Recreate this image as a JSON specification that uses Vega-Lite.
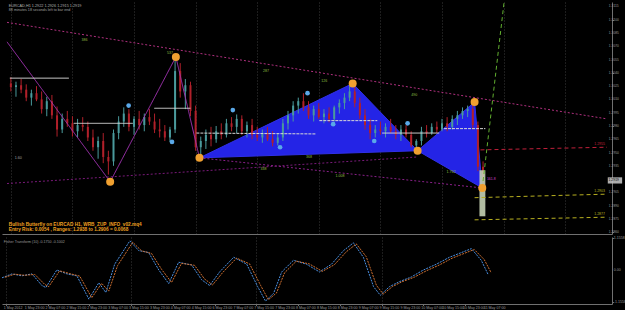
{
"$schema": "https://vega.github.io/schema/vega-lite/v6.json",
"background": "#000000",
"padding": 0,
"spacing": 1,
"resolve": {"scale": {"color": "independent", "size": "independent", "strokeDash": "independent"}},
"config": {"view": {"stroke": null}, "font": "Liberation Sans", "text": {"font": "Liberation Sans"},
"axis": {"labels": false, "tickSize": 1.5, "tickColor": "#707070", "domainColor": "#707070", "gridColor": "#3a3a3a", "gridDash": [1,2]}},
"datasets": {
"candles": [
{"b":0,"o":1.3028,"h":1.3035,"l":1.3019,"c":1.3024},
{"b":2,"o":1.3024,"h":1.3030,"l":1.3013,"c":1.3026},
{"b":4,"o":1.3026,"h":1.3033,"l":1.3017,"c":1.3021},
{"b":6,"o":1.3021,"h":1.3027,"l":1.3008,"c":1.3012},
{"b":8,"o":1.3012,"h":1.3021,"l":1.3003,"c":1.3017},
{"b":10,"o":1.3017,"h":1.3025,"l":1.3008,"c":1.3010},
{"b":12,"o":1.3010,"h":1.3019,"l":1.2994,"c":1.2999},
{"b":14,"o":1.2999,"h":1.3013,"l":1.2991,"c":1.3008},
{"b":16,"o":1.3008,"h":1.3015,"l":1.2988,"c":1.2992},
{"b":18,"o":1.2992,"h":1.3002,"l":1.2968,"c":1.2976},
{"b":20,"o":1.2976,"h":1.2994,"l":1.2972,"c":1.2988},
{"b":22,"o":1.2988,"h":1.2997,"l":1.2979,"c":1.2983},
{"b":24,"o":1.2983,"h":1.2991,"l":1.2968,"c":1.2974},
{"b":26,"o":1.2974,"h":1.2988,"l":1.2967,"c":1.2981},
{"b":28,"o":1.2981,"h":1.2990,"l":1.2974,"c":1.2979},
{"b":30,"o":1.2979,"h":1.2985,"l":1.2963,"c":1.2967},
{"b":32,"o":1.2967,"h":1.2976,"l":1.2952,"c":1.2956},
{"b":34,"o":1.2956,"h":1.2968,"l":1.2943,"c":1.2963},
{"b":36,"o":1.2963,"h":1.2972,"l":1.2938,"c":1.2945},
{"b":38,"o":1.2945,"h":1.2952,"l":1.2925,"c":1.2940},
{"b":40,"o":1.2940,"h":1.2976,"l":1.2935,"c":1.2972},
{"b":42,"o":1.2972,"h":1.2991,"l":1.2965,"c":1.2985},
{"b":44,"o":1.2985,"h":1.3001,"l":1.2979,"c":1.2994},
{"b":46,"o":1.2994,"h":1.2999,"l":1.2974,"c":1.2979},
{"b":48,"o":1.2979,"h":1.2991,"l":1.2970,"c":1.2988},
{"b":50,"o":1.2988,"h":1.2997,"l":1.2976,"c":1.2981},
{"b":52,"o":1.2981,"h":1.2994,"l":1.2974,"c":1.2990},
{"b":54,"o":1.2990,"h":1.2999,"l":1.2981,"c":1.2985},
{"b":56,"o":1.2985,"h":1.2994,"l":1.2972,"c":1.2976},
{"b":58,"o":1.2976,"h":1.2988,"l":1.2967,"c":1.2974},
{"b":60,"o":1.2974,"h":1.2981,"l":1.2963,"c":1.2967},
{"b":62,"o":1.2967,"h":1.2979,"l":1.2962,"c":1.2976},
{"b":64,"o":1.2976,"h":1.3055,"l":1.2972,"c":1.3042},
{"b":66,"o":1.3042,"h":1.3051,"l":1.3012,"c":1.3019},
{"b":68,"o":1.3019,"h":1.3033,"l":1.2999,"c":1.3026},
{"b":70,"o":1.3026,"h":1.3030,"l":1.2991,"c":1.2997},
{"b":72,"o":1.2997,"h":1.3003,"l":1.2952,"c":1.2956},
{"b":74,"o":1.2956,"h":1.2968,"l":1.2946,"c":1.2963},
{"b":76,"o":1.2963,"h":1.2976,"l":1.2954,"c":1.2970},
{"b":78,"o":1.2970,"h":1.2979,"l":1.2957,"c":1.2965},
{"b":80,"o":1.2965,"h":1.2980,"l":1.2961,"c":1.2974},
{"b":82,"o":1.2974,"h":1.2983,"l":1.2965,"c":1.2970},
{"b":84,"o":1.2970,"h":1.2988,"l":1.2967,"c":1.2983},
{"b":86,"o":1.2983,"h":1.2990,"l":1.2974,"c":1.2979},
{"b":88,"o":1.2979,"h":1.2993,"l":1.2972,"c":1.2988},
{"b":90,"o":1.2988,"h":1.2992,"l":1.2970,"c":1.2974},
{"b":92,"o":1.2974,"h":1.2985,"l":1.2967,"c":1.2981},
{"b":94,"o":1.2981,"h":1.2988,"l":1.2965,"c":1.2970},
{"b":96,"o":1.2970,"h":1.2979,"l":1.2963,"c":1.2967},
{"b":98,"o":1.2967,"h":1.2976,"l":1.2961,"c":1.2972},
{"b":100,"o":1.2972,"h":1.2979,"l":1.2963,"c":1.2965},
{"b":102,"o":1.2965,"h":1.2974,"l":1.2957,"c":1.2961},
{"b":104,"o":1.2961,"h":1.2972,"l":1.2958,"c":1.2967},
{"b":106,"o":1.2967,"h":1.2988,"l":1.2963,"c":1.2983},
{"b":108,"o":1.2983,"h":1.2997,"l":1.2976,"c":1.2992},
{"b":110,"o":1.2992,"h":1.3008,"l":1.2985,"c":1.3003},
{"b":112,"o":1.3003,"h":1.3012,"l":1.2994,"c":1.3008},
{"b":114,"o":1.3008,"h":1.3017,"l":1.2997,"c":1.3001},
{"b":116,"o":1.3001,"h":1.3008,"l":1.2988,"c":1.2992},
{"b":118,"o":1.2992,"h":1.3003,"l":1.2985,"c":1.2999},
{"b":120,"o":1.2999,"h":1.3006,"l":1.2988,"c":1.2990},
{"b":122,"o":1.2990,"h":1.2999,"l":1.2983,"c":1.2994},
{"b":124,"o":1.2994,"h":1.3001,"l":1.2984,"c":1.2988},
{"b":126,"o":1.2988,"h":1.3003,"l":1.2985,"c":1.3001},
{"b":128,"o":1.3001,"h":1.3010,"l":1.2994,"c":1.3006},
{"b":130,"o":1.3006,"h":1.3017,"l":1.2999,"c":1.3012},
{"b":132,"o":1.3012,"h":1.3025,"l":1.3008,"c":1.3019},
{"b":134,"o":1.3019,"h":1.3024,"l":1.3001,"c":1.3006},
{"b":136,"o":1.3006,"h":1.3012,"l":1.2988,"c":1.2992},
{"b":138,"o":1.2992,"h":1.2999,"l":1.2976,"c":1.2981},
{"b":140,"o":1.2981,"h":1.2988,"l":1.2965,"c":1.2972},
{"b":142,"o":1.2972,"h":1.2981,"l":1.2967,"c":1.2976},
{"b":144,"o":1.2976,"h":1.2985,"l":1.2970,"c":1.2974},
{"b":146,"o":1.2974,"h":1.2983,"l":1.2967,"c":1.2979},
{"b":148,"o":1.2979,"h":1.2988,"l":1.2972,"c":1.2974},
{"b":150,"o":1.2974,"h":1.2981,"l":1.2965,"c":1.2970},
{"b":152,"o":1.2970,"h":1.2981,"l":1.2963,"c":1.2976},
{"b":154,"o":1.2976,"h":1.2981,"l":1.2967,"c":1.2970},
{"b":156,"o":1.2970,"h":1.2974,"l":1.2956,"c":1.2958},
{"b":158,"o":1.2958,"h":1.2965,"l":1.2954,"c":1.2963},
{"b":160,"o":1.2963,"h":1.2979,"l":1.2958,"c":1.2974},
{"b":162,"o":1.2974,"h":1.2981,"l":1.2967,"c":1.2972},
{"b":164,"o":1.2972,"h":1.2983,"l":1.2970,"c":1.2979},
{"b":166,"o":1.2979,"h":1.2985,"l":1.2972,"c":1.2976},
{"b":168,"o":1.2976,"h":1.2988,"l":1.2974,"c":1.2983},
{"b":170,"o":1.2983,"h":1.2990,"l":1.2974,"c":1.2979},
{"b":172,"o":1.2979,"h":1.2992,"l":1.2976,"c":1.2988},
{"b":174,"o":1.2988,"h":1.2997,"l":1.2981,"c":1.2992},
{"b":176,"o":1.2992,"h":1.3001,"l":1.2988,"c":1.2997},
{"b":178,"o":1.2997,"h":1.3003,"l":1.2990,"c":1.2999},
{"b":180,"o":1.2999,"h":1.3007,"l":1.2976,"c":1.2981},
{"b":182,"o":1.2981,"h":1.2985,"l":1.2929,"c":1.2934},
{"b":184,"o":1.2934,"h":1.2940,"l":1.2911,"c":1.2919}
],
"polys": [
{"g":"t1","k":0,"b":73.5,"p":1.2944},{"g":"t1","k":1,"b":133.2,"p":1.3028},{"g":"t1","k":2,"b":158.5,"p":1.2952},
{"g":"t2","k":0,"b":158.5,"p":1.2952},{"g":"t2","k":1,"b":180.7,"p":1.3007},{"g":"t2","k":2,"b":183.7,"p":1.2910}
],
"lines": [
{"g":"purple","k":0,"b":-1.5,"p":1.3075},{"g":"purple","k":1,"b":38.7,"p":1.2917},{"g":"purple","k":2,"b":64.3,"p":1.3058},{"g":"purple","k":3,"b":73.5,"p":1.2944},
{"g":"up1","k":0,"b":-1.5,"p":1.3097},{"g":"up1","k":1,"b":232.3,"p":1.2988},
{"g":"xc","k":0,"b":-1.5,"p":1.2915},{"g":"xc","k":1,"b":158.5,"p":1.2945},
{"g":"ad","k":0,"b":73.5,"p":1.2944},{"g":"ad","k":1,"b":183.7,"p":1.2910},
{"g":"grn","k":0,"b":183.7,"p":1.2910},{"g":"grn","k":1,"b":192.2,"p":1.3120},
{"g":"red","k":0,"b":183.0,"p":1.2953},{"g":"red","k":1,"b":232.3,"p":1.2956},
{"g":"yl1","k":0,"b":180.7,"p":1.2899},{"g":"yl1","k":1,"b":232.3,"p":1.2903},
{"g":"yl2","k":0,"b":180.7,"p":1.2874},{"g":"yl2","k":1,"b":232.3,"p":1.2877},
{"g":"w1","k":0,"b":-0.4,"p":1.3034},{"g":"w1","k":1,"b":22.6,"p":1.3034},
{"g":"w2","k":0,"b":24.5,"p":1.2983},{"g":"w2","k":1,"b":47.5,"p":1.2983},
{"g":"w3","k":0,"b":55.9,"p":1.3000},{"g":"w3","k":1,"b":70.0,"p":1.3000},
{"g":"w4","k":0,"b":72.3,"p":1.2972},{"g":"w4","k":1,"b":119.0,"p":1.2971},
{"g":"w5","k":0,"b":120.2,"p":1.2986},{"g":"w5","k":1,"b":142.8,"p":1.2986},
{"g":"w6","k":0,"b":144.7,"p":1.2972},{"g":"w6","k":1,"b":166.9,"p":1.2972},
{"g":"w7","k":0,"b":168.8,"p":1.2977},{"g":"w7","k":1,"b":184.9,"p":1.2977}
],
"boxes": [
{"k":"zone","b":182.6,"b2":184.9,"p":1.2930,"p2":1.2878},
{"k":"price","b":232.6,"b2":238.2,"p":1.2922,"p2":1.2915}
],
"pts": [
{"k":"o","b":38.7,"p":1.2917},{"k":"o","b":64.3,"p":1.3058},{"k":"o","b":73.5,"p":1.2944},{"k":"o","b":133.2,"p":1.3028},{"k":"o","b":158.5,"p":1.2952},{"k":"o","b":180.7,"p":1.3007},{"k":"o","b":183.7,"p":1.2910},
{"k":"c","b":45.9,"p":1.3003},{"k":"c","b":62.8,"p":1.2962},{"k":"c","b":86.5,"p":1.2998},{"k":"c","b":104.9,"p":1.2956},{"k":"c","b":115.6,"p":1.3017},{"k":"c","b":125.6,"p":1.2982},{"k":"c","b":141.6,"p":1.2963},{"k":"c","b":154.6,"p":1.2983}
],
"tl": [
{"k":"hdr","b":-0.8,"p":1.3116,"t":"EURCAD,H1  1.2922 1.2926 1.2915 1.2919"},
{"k":"sub","b":-0.8,"p":1.31115,"t":"88 minutes 18 seconds left to bar end"},
{"k":"tag","b":27.5,"p":1.3077,"t":"386"},
{"k":"tag","b":60.8,"p":1.3062,"t":"537"},
{"k":"tag","b":98.3,"p":1.3042,"t":"287"},
{"k":"tag","b":121,"p":1.3031,"t":"126"},
{"k":"tag","b":115,"p":1.2945,"t":"368"},
{"k":"tag","b":97.3,"p":1.2931,"t":"338"},
{"k":"tag","b":126.5,"p":1.2923,"t":"1.008"},
{"k":"tag","b":156,"p":1.3015,"t":"490"},
{"k":"tag","b":169.8,"p":1.2928,"t":"1.762"},
{"k":"sub","b":1.5,"p":1.2944,"t":"1.60"},
{"k":"mag","b":185.5,"p":1.2920,"t":"161.8"},
{"k":"box","b":232.9,"p":1.29185,"t":"1.2919"},
{"k":"axis","b":233.0,"p":1.3115,"t":"1.3115"},
{"k":"axis","b":233.0,"p":1.3100,"t":"1.3100"},
{"k":"axis","b":233.0,"p":1.3085,"t":"1.3085"},
{"k":"axis","b":233.0,"p":1.3070,"t":"1.3070"},
{"k":"axis","b":233.0,"p":1.3055,"t":"1.3055"},
{"k":"axis","b":233.0,"p":1.3040,"t":"1.3040"},
{"k":"axis","b":233.0,"p":1.3025,"t":"1.3025"},
{"k":"axis","b":233.0,"p":1.3010,"t":"1.3010"},
{"k":"axis","b":233.0,"p":1.2995,"t":"1.2995"},
{"k":"axis","b":233.0,"p":1.2980,"t":"1.2980"},
{"k":"axis","b":233.0,"p":1.2965,"t":"1.2965"},
{"k":"axis","b":233.0,"p":1.2950,"t":"1.2950"},
{"k":"axis","b":233.0,"p":1.2935,"t":"1.2935"},
{"k":"axis","b":233.0,"p":1.2905,"t":"1.2905"},
{"k":"axis","b":233.0,"p":1.2890,"t":"1.2890"},
{"k":"axis","b":233.0,"p":1.2875,"t":"1.2875"},
{"k":"axis","b":233.0,"p":1.2860,"t":"1.2860"}
],
"tr": [
{"k":"red","b":231.5,"p":1.2957,"t":"1.2955"},
{"k":"yel","b":231.5,"p":1.2904,"t":"1.2903"},
{"k":"yel","b":231.5,"p":1.2878,"t":"1.2877"}
],
"titles": [
{"b":-0.8,"p":1.2868,"t":"Bullish Butterfly on EURCAD H1,  WRB_ZUP_INFO_v02.mq4"},
{"b":-0.8,"p":1.2862,"t":"Entry Risk: 0.0054 , Ranges: 1.2938 to 1.2906 = 0.0068"}
],
"osc": [
{"s":"a","b":-1.5,"v":-0.28},{"s":"a","b":2.3,"v":-0.14},{"s":"a","b":6.1,"v":-0.21},{"s":"a","b":10.0,"v":-0.14},{"s":"a","b":13.8,"v":-0.56},{"s":"a","b":15.3,"v":-0.63},{"s":"a","b":19.5,"v":0},{"s":"a","b":23.4,"v":-0.14},{"s":"a","b":27.2,"v":-0.21},{"s":"a","b":31.8,"v":-1.05},{"s":"a","b":35.6,"v":-0.46},{"s":"a","b":38.3,"v":-0.81},{"s":"a","b":41.7,"v":0.21},{"s":"a","b":47.5,"v":1.05},{"s":"a","b":50.9,"v":0.70},{"s":"a","b":54.7,"v":0.63},{"s":"a","b":58.6,"v":0},{"s":"a","b":62.4,"v":-0.49},{"s":"a","b":66.2,"v":0.28},{"s":"a","b":71.2,"v":0.18},{"s":"a","b":75.0,"v":-0.35},{"s":"a","b":78.1,"v":-0.56},{"s":"a","b":81.9,"v":-0.07},{"s":"a","b":87.3,"v":0.46},{"s":"a","b":92.3,"v":0.21},{"s":"a","b":96.5,"v":-0.60},{"s":"a","b":99.5,"v":-1.12},{"s":"a","b":102.6,"v":-0.84},{"s":"a","b":105.7,"v":-0.07},{"s":"a","b":110.2,"v":0.35},{"s":"a","b":115.2,"v":0.21},{"s":"a","b":120.2,"v":-0.07},{"s":"a","b":124.8,"v":0.21},{"s":"a","b":129.4,"v":0.70},{"s":"a","b":133.2,"v":0.98},{"s":"a","b":137.0,"v":0.46},{"s":"a","b":140.9,"v":-0.60},{"s":"a","b":143.5,"v":-0.91},{"s":"a","b":147.0,"v":-0.60},{"s":"a","b":150.8,"v":-0.42},{"s":"a","b":155.4,"v":-0.25},{"s":"a","b":160.0,"v":0},{"s":"a","b":165.0,"v":0.21},{"s":"a","b":170.0,"v":0.46},{"s":"a","b":174.6,"v":0.63},{"s":"a","b":178.4,"v":0.77},{"s":"a","b":182.2,"v":0.35},{"s":"a","b":184.9,"v":-0.18},
{"s":"b","b":-0.4,"v":-0.26},{"s":"b","b":3.4,"v":-0.15},{"s":"b","b":7.2,"v":-0.19},{"s":"b","b":11.1,"v":-0.16},{"s":"b","b":14.9,"v":-0.52},{"s":"b","b":16.4,"v":-0.60},{"s":"b","b":20.6,"v":-0.03},{"s":"b","b":24.5,"v":-0.13},{"s":"b","b":28.3,"v":-0.22},{"s":"b","b":32.9,"v":-1.00},{"s":"b","b":36.7,"v":-0.48},{"s":"b","b":39.4,"v":-0.76},{"s":"b","b":42.8,"v":0.16},{"s":"b","b":48.6,"v":1.00},{"s":"b","b":52.0,"v":0.69},{"s":"b","b":55.8,"v":0.60},{"s":"b","b":59.7,"v":0.02},{"s":"b","b":63.5,"v":-0.45},{"s":"b","b":67.3,"v":0.24},{"s":"b","b":72.3,"v":0.17},{"s":"b","b":76.1,"v":-0.32},{"s":"b","b":79.2,"v":-0.54},{"s":"b","b":83.0,"v":-0.10},{"s":"b","b":88.4,"v":0.43},{"s":"b","b":93.4,"v":0.22},{"s":"b","b":97.6,"v":-0.55},{"s":"b","b":100.6,"v":-1.07},{"s":"b","b":103.7,"v":-0.83},{"s":"b","b":106.8,"v":-0.10},{"s":"b","b":111.3,"v":0.32},{"s":"b","b":116.3,"v":0.22},{"s":"b","b":121.3,"v":-0.05},{"s":"b","b":125.9,"v":0.19},{"s":"b","b":130.5,"v":0.66},{"s":"b","b":134.3,"v":0.94},{"s":"b","b":138.1,"v":0.48},{"s":"b","b":142.0,"v":-0.55},{"s":"b","b":144.6,"v":-0.87},{"s":"b","b":148.1,"v":-0.60},{"s":"b","b":151.9,"v":-0.42},{"s":"b","b":156.5,"v":-0.26},{"s":"b","b":161.1,"v":-0.03},{"s":"b","b":166.1,"v":0.18},{"s":"b","b":171.1,"v":0.43},{"s":"b","b":175.7,"v":0.60},{"s":"b","b":179.5,"v":0.74},{"s":"b","b":183.3,"v":0.38},{"s":"b","b":186.0,"v":-0.10}
],
"osctext": [
{"b":-0.8,"v":1.0,"t":"Fisher Transform (10) -0.1750 -0.1002"},
{"b":233.0,"v":1.1558,"t":"1.1558"},
{"b":233.0,"v":0,"t":"0.00"},
{"b":233.0,"v":-1.1558,"t":"-1.1558"},
{"b":-0.8,"v":-1.38,"t":"1 May 2012"},
{"b":7.2,"v":-1.38,"t":"1 May 23:00"},
{"b":15.2,"v":-1.38,"t":"2 May 07:00"},
{"b":23.2,"v":-1.38,"t":"2 May 15:00"},
{"b":31.2,"v":-1.38,"t":"2 May 23:00"},
{"b":39.2,"v":-1.38,"t":"3 May 07:00"},
{"b":47.2,"v":-1.38,"t":"3 May 15:00"},
{"b":55.2,"v":-1.38,"t":"3 May 23:00"},
{"b":63.2,"v":-1.38,"t":"4 May 07:00"},
{"b":71.2,"v":-1.38,"t":"4 May 15:00"},
{"b":79.2,"v":-1.38,"t":"6 May 23:00"},
{"b":87.2,"v":-1.38,"t":"7 May 07:00"},
{"b":95.2,"v":-1.38,"t":"7 May 15:00"},
{"b":103.2,"v":-1.38,"t":"7 May 23:00"},
{"b":111.2,"v":-1.38,"t":"8 May 07:00"},
{"b":119.2,"v":-1.38,"t":"8 May 15:00"},
{"b":127.2,"v":-1.38,"t":"8 May 23:00"},
{"b":135.2,"v":-1.38,"t":"9 May 07:00"},
{"b":143.2,"v":-1.38,"t":"9 May 15:00"},
{"b":151.2,"v":-1.38,"t":"9 May 23:00"},
{"b":159.2,"v":-1.38,"t":"10 May 07:00"},
{"b":167.2,"v":-1.38,"t":"10 May 15:00"},
{"b":175.2,"v":-1.38,"t":"10 May 23:00"},
{"b":183.2,"v":-1.38,"t":"11 May 07:00"}
]
},
"vconcat": [
{
"width": 610,
"height": 232,
"resolve": {"scale": {"color": "independent", "size": "independent", "strokeDash": "independent"}},
"layer": [
{
"data": {"name": "polys"},
"mark": {"type": "line", "interpolate": "linear-closed", "fill": "#2424e6", "stroke": "#3030e8", "strokeWidth": 1},
"encoding": {
"x": {"field": "b", "type": "quantitative", "title": null, "scale": {"domain": [-1.5, 232.3]},
"axis": {"values": [0,24,48,72,96,120,144,168,192,216], "labels": false, "ticks": false, "domain": true, "grid": true, "title": null}},
"y": {"field": "p", "type": "quantitative", "title": null, "scale": {"domain": [1.2858, 1.3120]},
"axis": {"orient": "right", "values": [1.3115,1.3100,1.3085,1.3070,1.3055,1.3040,1.3025,1.3010,1.2995,1.2980,1.2965,1.2950,1.2935,1.2920,1.2905,1.2890,1.2875,1.2860], "labels": false, "ticks": true, "grid": false, "title": null}},
"detail": {"field": "g"},
"order": {"field": "k", "type": "quantitative"}
}
},
{
"data": {"name": "candles"},
"mark": {"type": "rule", "strokeWidth": 1},
"encoding": {
"x": {"field": "b", "type": "quantitative", "title": null, "scale": {"domain": [-1.5, 232.3]}},
"y": {"field": "l", "type": "quantitative", "title": null, "scale": {"domain": [1.2858, 1.3120]}},
"y2": {"field": "h"},
"color": {"condition": {"test": "datum.c >= datum.o", "value": "#4a9a9c"}, "value": "#b0202a"}
}
},
{
"data": {"name": "candles"},
"mark": {"type": "bar", "size": 2},
"encoding": {
"x": {"field": "b", "type": "quantitative", "title": null, "scale": {"domain": [-1.5, 232.3]}},
"y": {"field": "o", "type": "quantitative", "title": null, "scale": {"domain": [1.2858, 1.3120]}},
"y2": {"field": "c"},
"color": {"condition": {"test": "datum.c >= datum.o", "value": "#4a9a9c"}, "value": "#b0202a"}
}
},
{
"data": {"name": "boxes"},
"mark": {"type": "rect", "opacity": 0.9},
"encoding": {
"x": {"field": "b", "type": "quantitative", "title": null, "scale": {"domain": [-1.5, 232.3]}},
"x2": {"field": "b2"},
"y": {"field": "p", "type": "quantitative", "title": null, "scale": {"domain": [1.2858, 1.3120]}},
"y2": {"field": "p2"},
"color": {"field": "k", "type": "nominal", "scale": {"domain": ["zone","price"], "range": ["#c4d0b4","#c0c0c0"]}, "legend": null}
}
},
{
"data": {"name": "lines"},
"mark": {"type": "line", "strokeWidth": 1},
"encoding": {
"x": {"field": "b", "type": "quantitative", "title": null, "scale": {"domain": [-1.5, 232.3]}},
"y": {"field": "p", "type": "quantitative", "title": null, "scale": {"domain": [1.2858, 1.3120]}},
"order": {"field": "k", "type": "quantitative"},
"color": {"field": "g", "type": "nominal", "legend": null, "scale": {"domain": ["purple","up1","xc","ad","grn","red","yl1","yl2","w1","w2","w3","w4","w5","w6","w7"], "range": ["#a434b4","#b0307f","#7a1a7a","#8a208a","#62b030","#c0203a","#b8b020","#b8b020","#d8d8d8","#d8d8d8","#d8d8d8","#d8d8d8","#d8d8d8","#d8d8d8","#d8d8d8"]}},
"strokeDash": {"field": "g", "type": "nominal", "legend": null, "scale": {"domain": ["purple","up1","xc","ad","grn","red","yl1","yl2","w1","w2","w3","w4","w5","w6","w7"], "range": [[1,0],[2,2],[2,2],[2,2],[4,3],[4,3],[4,3],[4,3],[1,0],[1,0],[1,0],[3,1],[3,1],[1,0],[3,1]]}}
}
},
{
"data": {"name": "pts"},
"mark": {"type": "circle", "opacity": 1},
"encoding": {
"x": {"field": "b", "type": "quantitative", "title": null, "scale": {"domain": [-1.5, 232.3]}},
"y": {"field": "p", "type": "quantitative", "title": null, "scale": {"domain": [1.2858, 1.3120]}},
"color": {"field": "k", "type": "nominal", "legend": null, "scale": {"domain": ["o","c"], "range": ["#f0a030","#5aa8e8"]}},
"size": {"field": "k", "type": "nominal", "legend": null, "scale": {"domain": ["o","c"], "range": [64, 22]}}
}
},
{
"data": {"name": "tl"},
"mark": {"type": "text", "align": "left", "baseline": "middle"},
"encoding": {
"x": {"field": "b", "type": "quantitative", "title": null, "scale": {"domain": [-1.5, 232.3]}},
"y": {"field": "p", "type": "quantitative", "title": null, "scale": {"domain": [1.2858, 1.3120]}},
"text": {"field": "t"},
"color": {"field": "k", "type": "nominal", "legend": null, "scale": {"domain": ["hdr","sub","tag","mag","box","axis"], "range": ["#b0b0b0","#a0a0a0","#8fbf40","#d040d0","#000000","#9a9a9a"]}},
"size": {"field": "k", "type": "nominal", "legend": null, "scale": {"domain": ["hdr","sub","tag","mag","box","axis"], "range": [3.8,3.3,3.5,3.5,3.7,3.7]}}
}
},
{
"data": {"name": "tr"},
"mark": {"type": "text", "align": "right", "baseline": "bottom", "fontSize": 3.5},
"encoding": {
"x": {"field": "b", "type": "quantitative", "title": null, "scale": {"domain": [-1.5, 232.3]}},
"y": {"field": "p", "type": "quantitative", "title": null, "scale": {"domain": [1.2858, 1.3120]}},
"text": {"field": "t"},
"color": {"field": "k", "type": "nominal", "legend": null, "scale": {"domain": ["red","yel"], "range": ["#c0203a","#b8b020"]}}
}
},
{
"data": {"name": "titles"},
"mark": {"type": "text", "align": "left", "baseline": "middle", "fontSize": 4.7, "fontWeight": "bold", "color": "#f0a020"},
"encoding": {
"x": {"field": "b", "type": "quantitative", "title": null, "scale": {"domain": [-1.5, 232.3]}},
"y": {"field": "p", "type": "quantitative", "title": null, "scale": {"domain": [1.2858, 1.3120]}},
"text": {"field": "t"}
}
}
]
},
{
"width": 610,
"height": 67,
"resolve": {"scale": {"color": "independent"}},
"layer": [
{
"data": {"name": "osc"},
"mark": {"type": "line", "strokeWidth": 1, "strokeDash": [2,1]},
"encoding": {
"x": {"field": "b", "type": "quantitative", "title": null, "scale": {"domain": [-1.5, 232.3]},
"axis": {"orient": "bottom", "values": [0,8,16,24,32,40,48,56,64,72,80,88,96,104,112,120,128,136,144,152,160,168,176,184], "labels": false, "ticks": true, "grid": true, "gridColor": {"condition": {"test": "datum.value % 24 === 0", "value": "#3a3a3a"}, "value": "transparent"}, "title": null}},
"y": {"field": "v", "type": "quantitative", "title": null, "scale": {"domain": [-1.225, 1.19]},
"axis": {"orient": "right", "values": [1.1558, 0, -1.1558], "labels": false, "ticks": true, "grid": false, "title": null}},
"color": {"field": "s", "type": "nominal", "legend": null, "scale": {"domain": ["a","b"], "range": ["#4a90e2","#d07030"]}},
"order": {"field": "b", "type": "quantitative"}
}
},
{
"mark": {"type": "rule", "color": "#707070", "strokeDash": [1,2]},
"encoding": {"y": {"datum": 0, "type": "quantitative", "title": null, "scale": {"domain": [-1.225, 1.19]}}}
},
{
"data": {"name": "osctext"},
"mark": {"type": "text", "align": "left", "baseline": "middle", "fontSize": 3.6, "color": "#9a9a9a"},
"encoding": {
"x": {"field": "b", "type": "quantitative", "title": null, "scale": {"domain": [-1.5, 232.3]}},
"y": {"field": "v", "type": "quantitative", "title": null, "scale": {"domain": [-1.225, 1.19]}},
"text": {"field": "t"}
}
}
]
}
]
}
